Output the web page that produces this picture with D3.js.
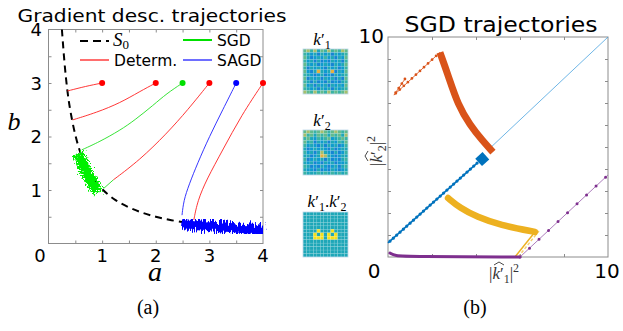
<!DOCTYPE html>
<html>
<head>
<meta charset="utf-8">
<script src="https://cdn.jsdelivr.net/npm/d3@7"></script>
<style>
  body { margin: 0; background: #fff; }
  svg { display: block; }
  .tick line { stroke: #8c8c8c; }
</style>
</head>
<body>
<svg id="fig" width="623" height="331"></svg>
<script>
// ---------- panel (a): gradient descent in (a, b) ----------
const aTickMarks = [0.5, 1, 1.5, 2, 2.5, 3, 3.5];
const aTickLabels = [1, 2, 3, 4];
const bTickLabels = [1, 2, 3, 4];

// S0 : b = 1/a
const s0A = [0.25, 0.3, 0.35, 0.4, 0.5, 0.6, 0.7, 0.8, 1, 1.25, 1.5, 1.75, 2, 2.25, 2.5];
const s0B = [4, 3.33, 2.86, 2.5, 2, 1.67, 1.43, 1.25, 1, 0.8, 0.67, 0.57, 0.5, 0.44, 0.4];

const detTracks = [
  [[1, 3], [0.7, 2.94], [0.35, 2.85]],
  [[2, 3], [1.7, 2.84], [1.34, 2.63], [0.9, 2.45], [0.45, 2.31]],
  [[3, 3], [2.6, 2.5], [2.2, 2.05], [1.7, 1.56], [1.21, 1.19]],
  [[4, 3], [3.6, 2.4], [3.25, 1.75], [2.95, 1.2], [2.78, 0.8], [2.71, 0.44]]
];
const sgdTrack = [[2.5, 3], [2.2, 2.8], [1.96, 2.59], [1.6, 2.3], [1.34, 2.12], [0.95, 1.9], [0.62, 1.75]];
const sgdTail = [[1.21, 1.19], [1.03, 1.03]];
const sagdTrack = [[3.5, 3], [3.25, 2.5], [3.0, 2.0], [2.78, 1.5], [2.62, 1.1], [2.52, 0.8], [2.49, 0.53]];
const sgdCloud = [[0.55, 1.68], [0.66, 1.42], [0.78, 1.2], [0.92, 0.96]];
const sagdCloud = [[2.5, 0.37], [3, 0.33], [3.5, 0.29], [4, 0.25]];
const detStarts = [[1, 3], [2, 3], [3, 3], [4, 3]];
const sgdStart = [2.5, 3];
const sagdStart = [3.5, 3];

// ---------- filters (middle) ----------
const filterPalette = ['#2a6ad8', '#1585d4', '#0e9bcf', '#1ea7b8', '#3ab3a4', '#62ba8d', '#a6bf6c', '#e6b03e', '#f4e01c'];
const k1Cells = [
  "5646354645465",
  "4323132313234",
  "5312324231325",
  "4231312132314",
  "5323123213235",
  "4132321323124",
  "5213732371325",
  "4321231213234",
  "5132313231315",
  "4313121312134",
  "5231323132325",
  "4323132313234",
  "6546454645456"
];
const k2Cells = [
  "5654565456545",
  "6453545354536",
  "4532434523454",
  "5341323132435",
  "4232131323124",
  "3123232131233",
  "4231363213124",
  "3312376321233",
  "4123231312134",
  "3231213231223",
  "4312132123134",
  "3221312132123",
  "4333434343434"
];
const k12Cells = [
  "3333333333333",
  "3333333333333",
  "3333333333333",
  "3333333333333",
  "3333333333333",
  "3333833383333",
  "3338383838333",
  "3338883888333",
  "3333333333333",
  "3333333333333",
  "3333333333333",
  "3333333333333",
  "3333333333333"
];

// ---------- panel (b): SGD in (|k1|^2, |k2|^2) ----------
const kxTickMarks = [2, 4, 6, 8];
const kyTickMarks = [1, 2, 3, 4, 5, 6, 7, 8, 9];
const blueThin = [[10, 10], [4.5, 4.82]];
const blueBlob = [[4.12, 4.3], [4.45, 4.6]];
const blueDots = [[4.05, 4.27], [0, 0.64]];
const orangeStart = [[0.77, 8.09], [0.27, 7.36], [2.36, 9.3]];
const orangeBand = [[2.36, 9.3], [2.73, 8.27], [3.18, 6.91], [3.73, 6.0], [4.27, 5.32], [4.77, 4.77]];
const yellowBand = [[2.73, 2.68], [3.27, 2.23], [4.05, 1.82], [5.09, 1.45], [6.68, 1.14]];
const yellowTail = [[6.68, 1.14], [5.77, 0]];
const purpleBand = [[0.09, 0.18], [0.3, 0.05], [1, 0.02], [6, 0]];
const purpleTail = [[6, 0], [10, 3.73]];

const svg = d3.select('#fig');
const serif = '"Liberation Serif", "DejaVu Serif", serif';
const sans = '"DejaVu Sans", sans-serif';

function label(parent, x, y, str, size, anchor = 'middle', family = sans) {
  return parent.append('text').attr('x', x).attr('y', y).attr('text-anchor', anchor)
    .style('font-family', family).style('font-size', size + 'px').text(str);
}

// noise filters for the stochastic clouds
const defs = svg.append('defs');
function noiseFilter(id, freq, scale, seed) {
  const f = defs.append('filter').attr('id', id)
    .attr('x', '-30%').attr('y', '-60%').attr('width', '160%').attr('height', '220%');
  f.append('feTurbulence').attr('type', 'fractalNoise').attr('baseFrequency', freq)
    .attr('numOctaves', 2).attr('seed', seed).attr('result', 'n');
  f.append('feDisplacementMap').attr('in', 'SourceGraphic').attr('in2', 'n')
    .attr('scale', scale).attr('xChannelSelector', 'R').attr('yChannelSelector', 'G');
}
noiseFilter('noiseG', '0.7 0.7', 12, 4);
noiseFilter('noiseB', '0.9 0.06', 16, 7);

function innerTicks(g, axis) {
  g.call(axis.tickFormat('')).call(s => s.select('.domain').remove());
}

// ================= panel (a) =================
const xa = d3.scaleLinear([0, 4], [48.5, 263]);
const ya = d3.scaleLinear([0, 4], [243.5, 29.5]);
const la = d3.line().x(d => xa(d[0])).y(d => ya(d[1])).curve(d3.curveBasis);

const ga = svg.append('g');
ga.append('rect').attr('x', xa(0)).attr('y', ya(4)).attr('width', xa(4) - xa(0)).attr('height', ya(0) - ya(4))
  .attr('fill', 'none').attr('stroke', '#8c8c8c').attr('stroke-width', 1);
ga.append('g').attr('transform', `translate(${xa(0)},0)`).call(g => innerTicks(g, d3.axisLeft(ya).tickValues(aTickMarks).tickSize(-3)));
ga.append('g').attr('transform', `translate(${xa(4)},0)`).call(g => innerTicks(g, d3.axisRight(ya).tickValues(aTickMarks).tickSize(-3)));
ga.append('g').attr('transform', `translate(0,${ya(0)})`).call(g => innerTicks(g, d3.axisBottom(xa).tickValues(aTickMarks).tickSize(-3)));
ga.append('g').attr('transform', `translate(0,${ya(4)})`).call(g => innerTicks(g, d3.axisTop(xa).tickValues(aTickMarks).tickSize(-3)));
bTickLabels.forEach(v => label(ga, xa(0) - 6.5, ya(v) + 6.5, v, 18, 'end'));
aTickLabels.forEach(v => label(ga, xa(v), 262, v, 18));
label(ga, 40, 262, '0', 18);

// S0 curve
ga.append('path').datum(s0A.map((a, i) => [a, s0B[i]])).attr('d', la)
  .attr('fill', 'none').attr('stroke', '#000').attr('stroke-width', 2).attr('stroke-dasharray', '7,5');

// trajectories
detTracks.forEach(t => ga.append('path').datum(t).attr('d', la)
  .attr('fill', 'none').attr('stroke', '#ff2020').attr('stroke-width', 0.9));
ga.append('path').datum(sgdTrack).attr('d', la).attr('fill', 'none').attr('stroke', '#20e020').attr('stroke-width', 0.9);
ga.append('path').datum(sgdTail).attr('d', la).attr('fill', 'none').attr('stroke', '#20e020').attr('stroke-width', 0.9);
ga.append('path').datum(sagdTrack).attr('d', la).attr('fill', 'none').attr('stroke', '#2020ff').attr('stroke-width', 0.9);

// stochastic clouds
ga.append('path').datum(sgdCloud).attr('d', la).attr('fill', 'none')
  .attr('stroke', '#00f000').attr('stroke-width', 12).attr('filter', 'url(#noiseG)');
ga.append('path').datum(sagdCloud).attr('d', la).attr('fill', 'none')
  .attr('stroke', '#0000ff').attr('stroke-width', 11).attr('filter', 'url(#noiseB)');

// starting points
ga.selectAll('.sd').data(detStarts).join('circle')
  .attr('cx', d => xa(d[0])).attr('cy', d => ya(d[1])).attr('r', 3).attr('fill', '#ff0000');
ga.append('circle').attr('cx', xa(sgdStart[0])).attr('cy', ya(sgdStart[1])).attr('r', 3).attr('fill', '#00e000');
ga.append('circle').attr('cx', xa(sagdStart[0])).attr('cy', ya(sagdStart[1])).attr('r', 3).attr('fill', '#0000ff');

// legend
const legA = [
  { x: 80, y: 41, color: '#000', dash: '8,5', w: 2, label: 'S0' },
  { x: 183, y: 40, color: '#00e000', dash: null, w: 2, label: 'SGD' },
  { x: 80, y: 60, color: '#ff2020', dash: null, w: 1.3, label: 'Determ.' },
  { x: 183, y: 60, color: '#2020ff', dash: null, w: 1.3, label: 'SAGD' }
];
legA.forEach(d => {
  ga.append('line').attr('x1', d.x).attr('x2', d.x + 29).attr('y1', d.y).attr('y2', d.y)
    .attr('stroke', d.color).attr('stroke-width', d.w).attr('stroke-dasharray', d.dash);
  if (d.label === 'S0') {
    const t = ga.append('text').attr('x', d.x + 33).attr('y', d.y + 5).style('font-family', serif).style('font-size', '19px');
    t.append('tspan').style('font-style', 'italic').text('S');
    t.append('tspan').attr('dy', 2.5).style('font-size', '13px').text('0');
  } else {
    label(ga, d.x + 34, d.y + 6, d.label, 15.5, 'start');
  }
});

label(ga, 152, 22, 'Gradient desc. trajectories', 18.5)
  .attr('textLength', 269).attr('lengthAdjust', 'spacingAndGlyphs');
label(ga, 14, 130, 'b', 26, 'middle', serif).style('font-style', 'italic');
label(ga, 155, 281, 'a', 28, 'middle', serif).style('font-style', 'italic');
label(svg, 148, 314, '(a)', 20, 'middle', serif);

// ================= filters (middle) =================
const maps = [
  { cells: k1Cells, x: 303, y: 49, label: [['k', 'i'], ['′', ''], ['1', 's']], lx: 322, ly: 45 },
  { cells: k2Cells, x: 303, y: 130, label: [['k', 'i'], ['′', ''], ['2', 's']], lx: 322, ly: 126 },
  { cells: k12Cells, x: 303, y: 212, label: [['k', 'i'], ['′', ''], ['1', 's'], ['.', 'u'], ['k', 'i'], ['′', ''], ['2', 's']], lx: 327, ly: 207 }
];
const size = 45;
maps.forEach(m => {
  const n = m.cells.length;
  const cx = d3.scaleBand().domain(d3.range(n)).range([m.x, m.x + size]);
  const cy = d3.scaleBand().domain(d3.range(n)).range([m.y, m.y + size]);
  const g = svg.append('g');
  const flat = [];
  m.cells.forEach((row, r) => row.split('').forEach((v, c) => flat.push({ r, c, v: +v })));
  g.selectAll('rect').data(flat).join('rect')
    .attr('x', d => cx(d.c)).attr('y', d => cy(d.r))
    .attr('width', cx.bandwidth()).attr('height', cy.bandwidth())
    .attr('fill', d => filterPalette[d.v])
    .attr('stroke', 'rgba(255,255,255,0.18)').attr('stroke-width', 0.5);
  g.append('rect').attr('x', m.x).attr('y', m.y).attr('width', size).attr('height', size)
    .attr('fill', 'none').attr('stroke', '#bcd8e8').attr('stroke-width', 0.8);
  const t = svg.append('text').attr('x', m.lx).attr('y', m.ly).attr('text-anchor', 'middle')
    .style('font-family', serif).style('font-size', '17px');
  let down = 0;
  m.label.forEach(([s, k]) => {
    const sp = t.append('tspan').text(s);
    if (k === 'i') sp.style('font-style', 'italic');
    if (k === 's') { sp.attr('dy', 4 - down).style('font-size', '12px'); down = 4; }
    else if (down) { sp.attr('dy', -down); down = 0; }
  });
});

// ================= panel (b) =================
const xb = d3.scaleLinear([0, 10], [388, 608]);
const yb = d3.scaleLinear([0, 10], [257, 37]);
const lb = d3.line().x(d => xb(d[0])).y(d => yb(d[1])).curve(d3.curveBasis);
const lbs = d3.line().x(d => xb(d[0])).y(d => yb(d[1]));

const gb = svg.append('g');
gb.append('rect').attr('x', xb(0)).attr('y', yb(10)).attr('width', xb(10) - xb(0)).attr('height', yb(0) - yb(10))
  .attr('fill', 'none').attr('stroke', '#8c8c8c').attr('stroke-width', 1);
gb.append('g').attr('transform', `translate(${xb(0)},0)`).call(g => innerTicks(g, d3.axisLeft(yb).tickValues(kyTickMarks).tickSize(-3)));
gb.append('g').attr('transform', `translate(${xb(10)},0)`).call(g => innerTicks(g, d3.axisRight(yb).tickValues(kyTickMarks).tickSize(-3)));
gb.append('g').attr('transform', `translate(0,${yb(0)})`).call(g => innerTicks(g, d3.axisBottom(xb).tickValues(kxTickMarks).tickSize(-3)));
gb.append('g').attr('transform', `translate(0,${yb(10)})`).call(g => innerTicks(g, d3.axisTop(xb).tickValues(kxTickMarks).tickSize(-3)));

label(gb, 384, 43, '10', 20, 'end');
label(gb, 374, 278, '0', 20);
label(gb, 607, 278, '10', 20);

// trajectories
gb.append('path').datum(blueThin).attr('d', lbs).attr('fill', 'none').attr('stroke', '#4aa3e0').attr('stroke-width', 0.8);
gb.append('path').datum(blueDots).attr('d', lbs).attr('fill', 'none').attr('stroke', '#0072bd').attr('stroke-width', 1.6);
gb.append('path').datum(blueDots).attr('d', lbs).attr('fill', 'none').attr('stroke', '#0072bd')
  .attr('stroke-width', 3.2).attr('stroke-linecap', 'round').attr('stroke-dasharray', '0,4.5');
gb.append('path').datum(blueBlob).attr('d', lbs).attr('fill', 'none').attr('stroke', '#0072bd').attr('stroke-width', 10);

gb.append('path').datum(orangeStart).attr('d', lbs).attr('fill', 'none').attr('stroke', '#e06a3a').attr('stroke-width', 1);
gb.append('path').datum(orangeStart).attr('d', lbs).attr('fill', 'none').attr('stroke', '#d95319')
  .attr('stroke-width', 2.8).attr('stroke-linecap', 'round').attr('stroke-dasharray', '0,5.5');
gb.append('path').datum(orangeBand).attr('d', lb).attr('fill', 'none').attr('stroke', '#d95319')
  .attr('stroke-width', 7).attr('stroke-linecap', 'butt');

gb.append('path').datum(yellowTail).attr('d', lbs).attr('fill', 'none').attr('stroke', '#edb120').attr('stroke-width', 1.5);
gb.append('path').datum(yellowTail).attr('d', lbs).attr('fill', 'none').attr('stroke', '#f4cf70')
  .attr('stroke-width', 1.5).attr('stroke-dasharray', '3,2').attr('transform', 'translate(4,-1)');
gb.append('path').datum(yellowBand).attr('d', lb).attr('fill', 'none').attr('stroke', '#edb120')
  .attr('stroke-width', 6.5).attr('stroke-linecap', 'round');

gb.append('path').datum(purpleTail).attr('d', lbs).attr('fill', 'none').attr('stroke', '#a46fb5').attr('stroke-width', 0.9);
gb.append('path').datum(purpleTail).attr('d', lbs).attr('fill', 'none').attr('stroke', '#7e2f8e')
  .attr('stroke-width', 3).attr('stroke-linecap', 'round').attr('stroke-dasharray', '0,13');
gb.append('path').datum(purpleBand).attr('d', lb).attr('fill', 'none').attr('stroke', '#7e2f8e')
  .attr('stroke-width', 3).attr('stroke-linecap', 'round');

// title, labels
label(gb, 501, 32, 'SGD trajectories', 21.5).attr('textLength', 193).attr('lengthAdjust', 'spacingAndGlyphs');

function kLabel(g, idx) {
  const t = g.append('text').attr('x', 0).attr('y', 0).style('font-family', serif).style('font-size', '17px').attr('fill', '#333');
  t.append('tspan').text('|');
  t.append('tspan').style('font-style', 'italic').text('k');
  t.append('tspan').text('′');
  t.append('tspan').attr('dy', 4).style('font-size', '12px').text(idx);
  t.append('tspan').attr('dy', -4).text('|');
  t.append('tspan').attr('dy', -7).style('font-size', '12px').text('2');
  g.append('path').attr('d', 'M5,-14 L10,-17 L15,-14').attr('fill', 'none').attr('stroke', '#333').attr('stroke-width', 0.9);
}
kLabel(gb.append('g').attr('transform', 'translate(489,279)'), '1');
kLabel(gb.append('g').attr('transform', 'translate(382,166) rotate(-90)'), '2');

label(svg, 475, 314, '(b)', 20, 'middle', serif);
</script>
</body>
</html>
